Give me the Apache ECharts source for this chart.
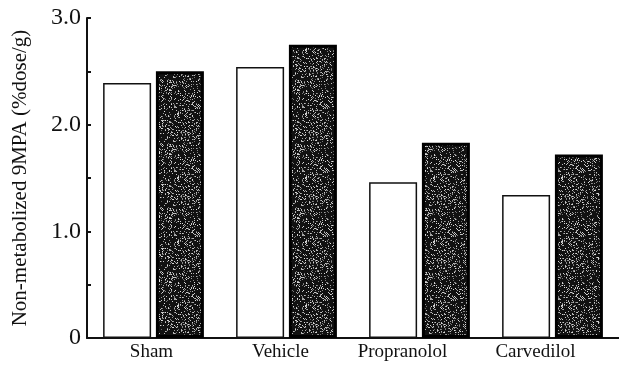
<!DOCTYPE html>
<html><head><meta charset="utf-8">
<script src="https://cdn.jsdelivr.net/npm/echarts@6/dist/echarts.min.js"></script>
<style>html,body{margin:0;padding:0;background:#fff}#c{width:619px;height:370px}</style>
</head><body><div id="c"></div>
<script>
const categories = ['Sham', 'Vehicle', 'Propranolol', 'Carvedilol'];
const whiteValues = [2.39, 2.54, 1.46, 1.34];
const darkValues = [2.50, 2.75, 1.83, 1.72];
const yTickLabels = {0: '0', 1: '1.0', 2: '2.0', 3: '3.0'};
const yAxisName = 'Non-metabolized 9MPA (%dose/g)';

// speckled texture for dark bars
const pc = document.createElement('canvas');
pc.width = 64; pc.height = 64;
const g = pc.getContext('2d');
g.fillStyle = '#111'; g.fillRect(0, 0, 64, 64);
let s = 12345;
function rnd() { s = (s * 1103515245 + 12345) & 0x7fffffff; return s / 0x7fffffff; }
for (let i = 0; i < 900; i++) {
  const v = 100 + Math.floor(rnd() * 130);
  g.fillStyle = 'rgb(' + v + ',' + v + ',' + v + ')';
  g.fillRect(Math.floor(rnd() * 64), Math.floor(rnd() * 64), 1, 1);
}

const font = 'Liberation Serif';
const rs = pad => ({fontFamily: font, fontSize: 19, color: '#111', padding: [0, pad, 0, 0]});
const chart = echarts.init(document.getElementById('c'), null, {renderer: 'canvas'});
chart.setOption({
  animation: false,
  backgroundColor: '#fff',
  grid: {left: 87, right: 0, top: 18, bottom: 32},
  xAxis: {
    type: 'category',
    data: categories,
    axisLine: {lineStyle: {color: '#111', width: 2}},
    axisTick: {inside: true, length: 4, interval: 0, lineStyle: {color: '#111', width: 2}},
    axisLabel: {
      interval: 0, color: '#111', fontFamily: font, fontSize: 19, margin: 5,
      formatter: (v, i) => '{r' + i + '|' + v + '}',
      rich: {r0: rs(4), r1: rs(12), r2: rs(34), r3: rs(34)}
    }
  },
  yAxis: {
    type: 'value', min: 0, max: 3, interval: 0.5,
    name: yAxisName, nameLocation: 'middle', nameGap: 56,
    nameTextStyle: {fontFamily: font, fontSize: 21, color: '#111'},
    splitLine: {show: false},
    axisLine: {show: true, lineStyle: {color: '#111', width: 2}},
    axisTick: {show: true, inside: true, length: 4, lineStyle: {color: '#111', width: 2}},
    axisLabel: {
      fontFamily: font, fontSize: 24, color: '#111', margin: 6,
      formatter: v => (yTickLabels[v] !== undefined ? yTickLabels[v] : '')
    }
  },
  series: [
    {type: 'bar', data: whiteValues, barWidth: 48, barGap: '10%',
     itemStyle: {color: '#fff', borderColor: '#111', borderWidth: 1.5}},
    {type: 'bar', data: darkValues, barWidth: 48,
     itemStyle: {color: {image: pc, repeat: 'repeat'}, borderColor: '#000', borderWidth: 3}}
  ]
});
</script></body></html>
